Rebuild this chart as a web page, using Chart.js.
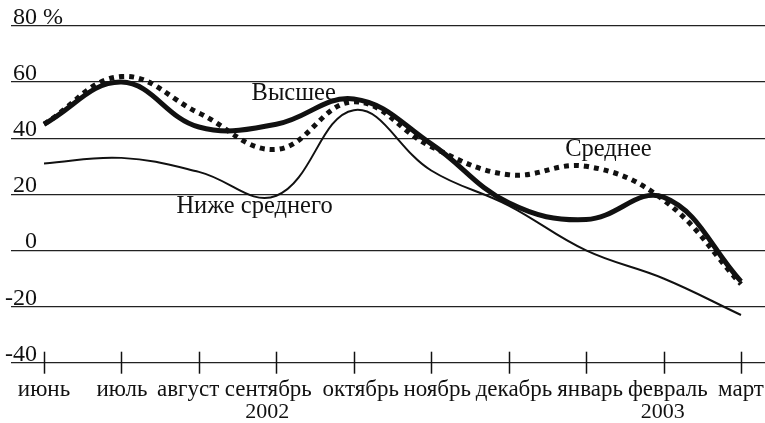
<!DOCTYPE html>
<html lang="ru">
<head>
<meta charset="utf-8">
<title>Динамика оценок</title>
<script src="https://cdn.jsdelivr.net/npm/chart.js@4.4.1/dist/chart.umd.min.js"></script>
<style>
  html, body { margin: 0; padding: 0; background: #fff; }
  canvas { display: block; }
</style>
</head>
<body>
<canvas id="chart" width="765" height="423"></canvas>
<script>
const months = ['июнь', 'июль', 'август', 'сентябрь', 'октябрь', 'ноябрь', 'декабрь', 'январь', 'февраль', 'март'];
const years = ['', '', '', '2002', '', '', '', '', '2003', ''];
const highest = [45, 60, 44, 45, 54, 38, 17, 11, 19, -11];
const average = [45, 62, 49, 36, 53, 37, 27, 30, 18, -12];
const belowAverage = [31, 33, 28, 19.5, 50, 28.5, 16, 0, -10, -23];
const yTicks = [80, 60, 40, 20, 0, -20, -40];

const serif = "'Liberation Serif', 'Times New Roman', serif";

const toPoints = arr => arr.map((v, i) => ({ x: i, y: v }));

// month labels are nudged sideways in the original so they don't collide
const labelShift = [0, 0.5, -10.7, -8, 7, 6, 5.3, 4, 4.3, 0];
const yearShift = [0, 0, 0, -9, 0, 0, 0, 0, -0.7, 0];

const decorations = {
  id: 'decorations',
  afterDraw(chart) {
    const { ctx, scales: { x, y } } = chart;
    ctx.save();
    ctx.fillStyle = '#111';
    ctx.textBaseline = 'alphabetic';

    // y labels above their grid lines
    ctx.font = '24px ' + serif;
    ctx.textAlign = 'left';
    yTicks.forEach(v => {
      const num = String(v);
      const label = v === 80 ? '80 %' : num;
      const w = ctx.measureText(num).width;
      ctx.fillText(label, 37 - w, y.getPixelForValue(v) - 2);
    });

    // tick marks crossing the bottom axis
    ctx.strokeStyle = '#111';
    ctx.lineWidth = 1.5;
    const base = y.getPixelForValue(-40);
    months.forEach((m, i) => {
      const px = Math.round(x.getPixelForValue(i)) + 0.5;
      ctx.beginPath();
      ctx.moveTo(px, base - 11);
      ctx.lineTo(px, base + 11);
      ctx.stroke();
    });

    // month and year labels
    ctx.textAlign = 'center';
    months.forEach((m, i) => {
      const tx = x.getPixelForValue(i);
      ctx.font = '23px ' + serif;
      ctx.fillText(m, tx + labelShift[i], base + 33);
      if (years[i]) {
        ctx.font = '22px ' + serif;
        ctx.fillText(years[i], tx + yearShift[i], base + 55.5);
      }
    });

    // series names next to the curves
    ctx.textAlign = 'left';
    ctx.font = '24.5px ' + serif;
    const names = [
      ['Высшее', 2.68, 53.8],
      ['Среднее', 6.73, 33.6],
      ['Ниже среднего', 1.71, 13.4]
    ];
    names.forEach(([t, xv, yv]) => {
      ctx.fillText(t, x.getPixelForValue(xv), y.getPixelForValue(yv));
    });
    ctx.restore();
  }
};

new Chart(document.getElementById('chart'), {
  type: 'line',
  data: {
    datasets: [
      {
        label: 'Ниже среднего',
        data: toPoints(belowAverage),
        borderColor: '#111',
        borderWidth: 2,
        tension: 0.4,
        pointRadius: 0
      },
      {
        label: 'Среднее',
        data: toPoints(average),
        borderColor: '#111',
        borderWidth: 5,
        borderDash: [5, 5],
        borderCapStyle: 'butt',
        tension: 0.4,
        pointRadius: 0
      },
      {
        label: 'Высшее',
        data: toPoints(highest),
        borderColor: '#111',
        borderWidth: 5,
        tension: 0.4,
        pointRadius: 0
      }
    ]
  },
  options: {
    responsive: false,
    animation: false,
    devicePixelRatio: 1,
    layout: { padding: { left: 11, right: 0, top: 26, bottom: 0 } },
    plugins: {
      legend: { display: false },
      tooltip: { enabled: false }
    },
    scales: {
      x: {
        type: 'linear',
        min: -0.426,
        max: 9.31,
        afterBuildTicks: scale => {
          scale.ticks = months.map((m, i) => ({ value: i }));
        },
        afterFit: scale => { scale.height = 60.3; },
        grid: { display: false, drawTicks: false },
        border: { display: false },
        ticks: { display: false }
      },
      y: {
        min: -40,
        max: 80,
        afterBuildTicks: scale => {
          scale.ticks = yTicks.map(v => ({ value: v }));
        },
        afterFit: scale => { scale.width = 0; },
        grid: { color: '#222', lineWidth: 1.3, drawTicks: false },
        border: { display: false },
        ticks: { display: false }
      }
    }
  },
  plugins: [decorations]
});
</script>
</body>
</html>
